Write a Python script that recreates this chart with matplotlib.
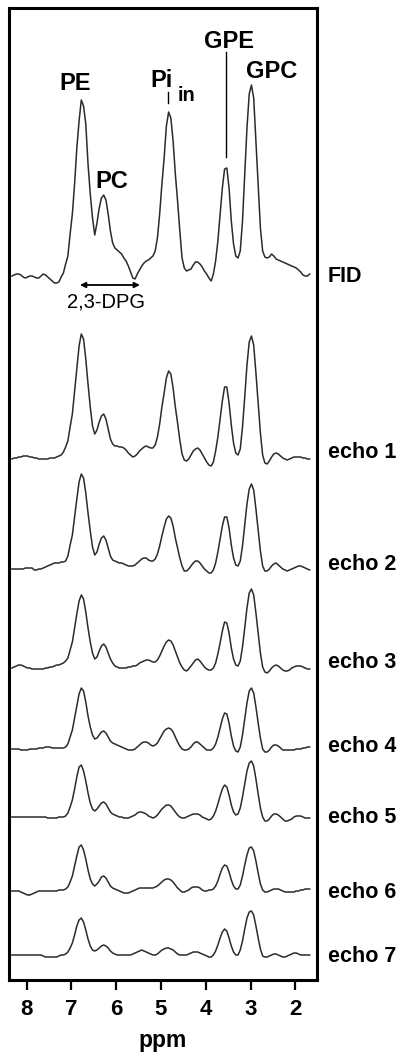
import numpy as np
import matplotlib
matplotlib.use('Agg')
import matplotlib.pyplot as plt

plt.rcParams['font.family'] = ['Liberation Sans', 'DejaVu Sans']

# chemical shift grid (ppm), 0.05 ppm steps from 8.33 down to 1.68
ppm = np.round(8.33 - 0.05 * np.arange(134), 2)

# signal heights above each trace's own baseline
fid = [1, 2, 3, 3, 2, 0, -1, 0, 1, 1,
       0, -1, -1, 1, 3, 2, 0, -2, -4, -6,
       -6, -5, 0, 4, 13, 21, 43, 63, 93, 129,
       156, 177, 171, 153, 113, 83, 59, 42, 54, 69,
       79, 82, 77, 63, 46, 34, 29, 27, 25, 23,
       19, 16, 11, 5, -1, -2, 3, 7, 11, 14,
       16, 17, 19, 21, 26, 39, 63, 93, 119, 151,
       165, 159, 136, 103, 76, 46, 19, 9, 6, 7,
       8, 12, 15, 15, 13, 10, 6, 3, -1, -4,
       3, 16, 36, 63, 89, 108, 109, 89, 56, 33,
       21, 19, 26, 56, 103, 149, 183, 192, 179, 136,
       93, 49, 26, 20, 19, 20, 23, 21, 18, 17,
       16, 15, 14, 13, 12, 11, 10, 9, 7, 5,
       2, 1, 1, 3]
echo1 = [0, 1, 1, 2, 2, 3, 3, 3, 2, 2,
         1, 1, 0, 0, 0, 0, 0, 1, 1, 1,
         2, 3, 4, 7, 12, 18, 32, 45, 68, 92,
         113, 125, 120, 100, 75, 52, 33, 25, 29, 37,
         43, 45, 40, 30, 20, 15, 13, 13, 12, 12,
         11, 9, 6, 4, 2, 3, 5, 8, 10, 12,
         13, 12, 11, 11, 14, 22, 35, 52, 66, 81,
         88, 85, 71, 52, 36, 19, 5, -1, -2, 0,
         4, 8, 10, 11, 9, 5, 1, -3, -6, -7,
         -3, 8, 22, 40, 58, 72, 72, 56, 34, 16,
         6, 4, 10, 32, 62, 94, 117, 123, 114, 86,
         56, 26, 4, -4, -5, -2, 2, 5, 6, 5,
         3, 1, 0, -1, 0, 1, 2, 2, 2, 2,
         1, 1, 0, 0]
echo2 = [0, 0, 0, 0, 0, 0, 1, 1, 1, 1,
         -1, -1, 0, 0, 1, 2, 3, 4, 5, 6,
         6, 6, 7, 7, 8, 13, 24, 34, 52, 70,
         87, 95, 91, 76, 56, 38, 22, 14, 17, 25,
         31, 33, 29, 21, 13, 9, 8, 7, 6, 6,
         5, 4, 3, 3, 3, 4, 6, 8, 10, 11,
         11, 9, 8, 8, 10, 15, 23, 33, 42, 50,
         53, 51, 43, 31, 21, 11, 3, -2, -2, 0,
         3, 6, 8, 8, 6, 3, 0, -2, -4, -4,
         -1, 6, 17, 30, 43, 52, 52, 41, 24, 11,
         4, 3, 8, 23, 44, 65, 80, 85, 79, 60,
         39, 18, 3, -2, -2, 0, 3, 5, 6, 4,
         2, 0, -1, -2, -1, 0, 1, 2, 3, 3,
         2, 1, 0, -1]
echo3 = [0, 1, 2, 3, 3, 2, 1, 0, 0, -1,
         -1, -1, -1, -1, -1, 0, 0, 1, 1, 2,
         3, 3, 4, 5, 7, 10, 18, 26, 40, 54,
         67, 73, 69, 56, 40, 26, 15, 9, 11, 17,
         22, 24, 21, 15, 9, 5, 2, 1, 0, 0,
         0, 0, 1, 1, 2, 2, 3, 5, 6, 7,
         8, 8, 7, 6, 6, 8, 12, 17, 22, 26,
         28, 27, 23, 17, 11, 5, 1, -2, -3, -1,
         2, 5, 8, 9, 7, 4, 1, -1, -2, -2,
         0, 5, 14, 25, 37, 46, 45, 35, 20, 9,
         3, 2, 7, 21, 40, 60, 75, 79, 73, 55,
         35, 15, 1, -4, -5, -3, 0, 2, 3, 2,
         0, -2, -3, -3, -2, 0, 1, 2, 2, 2,
         1, 0, -1, -1]
echo4 = [0, 0, 0, 0, -1, -1, -1, -1, 0, 0,
         0, 0, 1, 1, 1, 2, 2, 2, 1, 1,
         1, 1, 1, 1, 2, 5, 12, 19, 31, 43,
         55, 61, 58, 47, 33, 22, 14, 10, 11, 14,
         17, 18, 16, 12, 8, 6, 5, 4, 3, 2,
         1, 0, -1, -1, -1, 0, 2, 4, 6, 7,
         7, 6, 4, 3, 4, 6, 10, 14, 18, 20,
         21, 20, 17, 12, 7, 3, 0, -1, -1, 0,
         2, 5, 7, 7, 5, 3, 1, -1, -1, -1,
         1, 5, 12, 21, 30, 36, 35, 26, 13, 3,
         -2, -3, 2, 14, 30, 46, 58, 61, 56, 42,
         26, 11, 0, -3, -3, -1, 2, 4, 4, 3,
         1, -1, -1, -1, -1, -1, -1, 0, 0, 0,
         1, 1, 2, 2]
echo5 = [0, 0, 0, 0, 0, 0, 0, 0, 0, 0,
         0, 0, 0, 0, 0, 0, -1, -1, -1, -1,
         -1, 0, 0, 0, 1, 4, 10, 17, 28, 40,
         50, 52, 46, 36, 24, 14, 8, 6, 8, 11,
         14, 15, 13, 9, 5, 3, 2, 1, 0, 0,
         -1, -1, -1, 0, 1, 2, 4, 5, 5, 4,
         3, 1, 0, -1, 0, 2, 5, 8, 10, 12,
         12, 11, 8, 5, 2, 0, -1, -1, 0, 1,
         2, 3, 3, 3, 2, 0, -1, -2, -3, -2,
         1, 6, 13, 21, 28, 32, 30, 22, 12, 5,
         2, 3, 9, 20, 33, 46, 54, 56, 51, 38,
         23, 9, 0, -4, -4, -2, 1, 3, 3, 2,
         0, -2, -4, -4, -3, -2, 0, 1, 1, 1,
         0, -1, -1, -1]
echo6 = [0, 0, 0, 0, -1, -2, -3, -4, -4, -3,
         -2, -1, 0, 0, 0, 0, 0, 0, 0, 0,
         0, 1, 1, 1, 2, 4, 9, 15, 25, 35,
         44, 46, 41, 32, 21, 12, 7, 5, 7, 10,
         14, 15, 13, 9, 5, 3, 2, 1, 0, -1,
         -2, -2, -2, -1, 0, 1, 2, 3, 3, 3,
         3, 3, 3, 3, 4, 5, 7, 9, 11, 12,
         12, 11, 9, 6, 3, 1, -1, -1, 0, 1,
         3, 4, 4, 4, 3, 1, 0, 0, 1, 1,
         2, 5, 10, 17, 23, 26, 25, 19, 11, 5,
         2, 2, 6, 15, 26, 36, 43, 44, 40, 30,
         18, 7, 1, -1, -1, 0, 1, 2, 2, 2,
         1, 0, -1, -1, -1, -1, -1, 0, 0, 1,
         1, 2, 2, 2]
echo7 = [0, 0, 0, 0, 0, 0, 0, 0, 0, 0,
         0, 0, 0, 0, -1, -2, -2, -2, -2, -2,
         -2, -1, 0, 0, 1, 3, 7, 12, 20, 29,
         35, 37, 33, 25, 16, 9, 5, 4, 5, 7,
         9, 10, 9, 7, 4, 2, 1, 0, 0, 0,
         0, 0, 0, 0, 1, 2, 3, 4, 5, 4,
         3, 2, 1, 0, 0, 1, 3, 5, 6, 7,
         7, 6, 5, 3, 1, 0, 0, 0, 0, 1,
         2, 3, 3, 3, 2, 1, 0, -1, -2, -2,
         0, 4, 10, 17, 23, 26, 24, 17, 9, 3,
         0, 0, 5, 14, 26, 37, 43, 44, 40, 29,
         17, 6, -1, -2, -2, -1, 0, 1, 1, 0,
         -1, -2, -2, -1, 0, 1, 2, 2, 1, 0,
         0, 0, 0, 0]

traces = [fid, echo1, echo2, echo3, echo4, echo5, echo6, echo7]
trace_names = ['FID', 'echo 1', 'echo 2', 'echo 3', 'echo 4', 'echo 5', 'echo 6', 'echo 7']

# stacking layout (vertical baseline of each trace, and its label baseline)
offsets = [703, 521, 411, 312, 231, 163, 89, 25]
label_y = [698, 522, 410, 312, 228, 157, 82, 18]

fig = plt.figure(figsize=(4.09, 10.55), dpi=100)
ax = fig.add_axes([9 / 409, 75 / 1055, 308 / 409, 972 / 1055])

for vals, off in zip(traces, offsets):
    ax.plot(ppm, np.array(vals) + off, color='#2b2b2b', lw=1.1)

ax.set_xlim(8.395, 1.516)
ax.set_ylim(0, 972)

for name, y in zip(trace_names, label_y):
    ax.text(1.036, y, name, transform=ax.get_yaxis_transform(), ha='left',
            va='baseline', fontsize=15.5, fontweight='bold', clip_on=False)

# peak labels
bold = dict(fontsize=17, fontweight='bold', va='baseline', ha='center')
ax.text(6.91, 890, 'PE', **bold)
ax.text(6.095, 792, 'PC', **bold)
ax.text(5.0, 893, 'Pi', **bold)
ax.text(4.44, 879, 'in', fontsize=14.5, fontweight='bold', va='baseline', ha='center')
ax.plot([4.845, 4.845], [877, 888], color='black', lw=1.0)
ax.text(3.48, 932, 'GPE', **bold)
ax.plot([3.55, 3.55], [823, 928], color='black', lw=1.0)
ax.text(2.54, 902, 'GPC', **bold)

ax.annotate('', xy=(5.47, 695), xytext=(6.81, 695),
            arrowprops=dict(arrowstyle='<|-|>', color='black', lw=1.3,
                            mutation_scale=8, shrinkA=0, shrinkB=0))
ax.text(6.22, 673, '2,3-DPG', fontsize=14.5, ha='center', va='baseline')

ax.set_yticks([])
ax.set_xticks([8, 7, 6, 5, 4, 3, 2])
ax.tick_params(axis='x', direction='out', length=7, width=1.6, pad=7,
               labelsize=16)
for lab in ax.get_xticklabels():
    lab.set_fontweight('bold')
ax.set_xlabel('ppm', fontsize=16.5, fontweight='bold', labelpad=6)
for sp in ax.spines.values():
    sp.set_linewidth(2.2)

fig.savefig('out.png', dpi=100)
